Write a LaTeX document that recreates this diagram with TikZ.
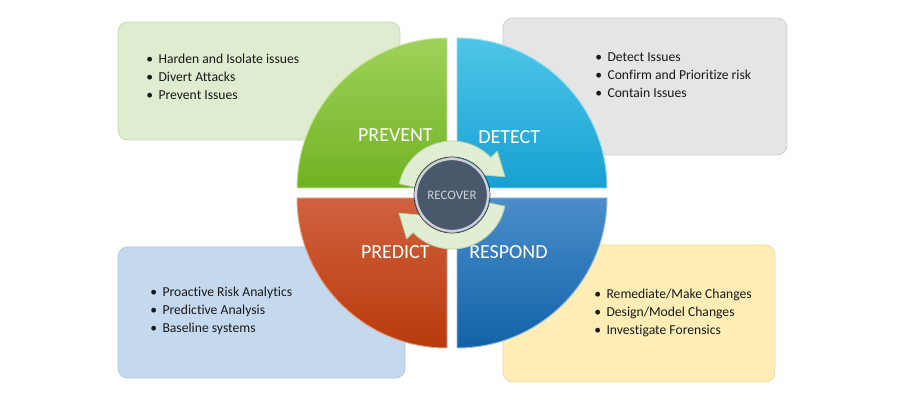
\documentclass[tikz,border=0pt]{standalone}
\usepackage{fontspec}
\setmainfont{Carlito}[Ligatures=NoCommon]
\usepackage{xcolor}
\usetikzlibrary{calc}
\definecolor{txt}{RGB}{25,25,25}
\definecolor{grnbox}{RGB}{223,236,208}
\definecolor{grnln}{RGB}{198,219,175}
\definecolor{gryBox}{RGB}{229,229,229}
\definecolor{gryLn}{RGB}{208,208,208}
\definecolor{bluBox}{RGB}{197,217,238}
\definecolor{bluLn}{RGB}{176,199,226}
\definecolor{ylwBox}{RGB}{254,238,182}
\definecolor{ylwLn}{RGB}{236,218,160}
\definecolor{prvTop}{RGB}{160,210,90}
\definecolor{prvBot}{RGB}{112,178,34}
\definecolor{detTop}{RGB}{78,198,232}
\definecolor{detBot}{RGB}{22,160,210}
\definecolor{preTop}{RGB}{208,98,62}
\definecolor{preBot}{RGB}{184,58,12}
\definecolor{resTop}{RGB}{74,142,202}
\definecolor{resBot}{RGB}{18,98,168}
\definecolor{rngFill}{RGB}{226,238,212}
\definecolor{rngLn}{RGB}{188,210,166}
\definecolor{recFill}{RGB}{74,88,108}
\definecolor{recRim}{RGB}{205,210,218}
\tikzstyle{bx}=[rounded corners=7pt, line width=0.6pt]
\tikzstyle{lst}=[anchor=west, align=left, inner sep=0, text=txt,
		font=\fontsize{9.7}{12.8}\selectfont]
\tikzstyle{ql}=[inner sep=0, text=white, font=\fontsize{14.2}{16}\selectfont]
\tikzstyle{qd}=[line width=0.7pt]
\tikzstyle{rng}=[fill=rngFill, draw=rngLn, line width=0.6pt, line join=round]
\newcommand{\bl}{\textbullet\hspace{0.4em}}

\begin{document}
\begin{tikzpicture}[x=0.025cm, y=0.025cm]
	\useasboundingbox (0,0) rectangle (900,400);
	% text boxes
	\draw[bx, fill=grnbox, draw=grnln] (118,378) rectangle (400,260);
	\draw[bx, fill=gryBox, draw=gryLn] (503,382) rectangle (787,245);
	\draw[bx, fill=bluBox, draw=bluLn] (118,153) rectangle (405,22);
	\draw[bx, fill=ylwBox, draw=ylwLn] (503,155) rectangle (775,18);
	\node[lst] (prevlist) at (146,323.5) {\bl Harden and Isolate issues\\\bl Divert Attacks\\\bl Prevent Issues};
	\node[lst] (detlist) at (595,324.5) {\bl Detect Issues\\\bl Confirm and Prioritize risk\\\bl Contain Issues};
	\node[lst] (predlist) at (150,89) {\bl Proactive Risk Analytics\\\bl Predictive Analysis\\\bl Baseline systems};
	\node[lst] (reslist) at (594,87) {\bl Remediate/Make Changes\\\bl Design/Model Changes\\\bl Investigate Forensics};
	% quadrants
	\draw[qd, top color=prvTop, bottom color=prvBot, draw=prvTop!60!white]
		(447,212) -- (297,212) arc[start angle=180, end angle=90, radius=150] -- cycle;
	\draw[qd, top color=detTop, bottom color=detBot, draw=detTop!60!white]
		(457,212) -- (457,362) arc[start angle=90, end angle=0, radius=150] -- cycle;
	\draw[qd, top color=preTop, bottom color=preBot, draw=preTop!60!white]
		(447,202) -- (447,52) arc[start angle=270, end angle=180, radius=150] -- cycle;
	\draw[qd, top color=resTop, bottom color=resBot, draw=resTop!60!white]
		(457,202) -- (607,202) arc[start angle=0, end angle=-90, radius=150] -- cycle;
	\node[ql, anchor=east] (prev) at (433,265) {PREVENT};
	\node[ql, anchor=west] (det) at (478,263) {DETECT};
	\node[ql, anchor=east] (pred) at (430,148) {PREDICT};
	\node[ql, anchor=west] (res) at (469,148) {RESPOND};
	% recover cycle
	\begin{scope}[shift={(452,205)}]
		\draw[rng] (168:54) arc[start angle=168, end angle=44, radius=54]
			-- (44:63) -- (19:56) -- (44:30) -- (44:38)
			arc[start angle=44, end angle=168, radius=38] -- cycle;
		\draw[rng] (348:54) arc[start angle=348, end angle=224, radius=54]
			-- (224:63) -- (199:56) -- (224:30) -- (224:38)
			arc[start angle=224, end angle=348, radius=38] -- cycle;
		\draw[fill=recFill, draw=recRim, line width=1.6pt] (0,0) circle (36);
		\draw[draw=recFill!70!black, line width=0.5pt] (0,0) circle (38);
	\end{scope}
	\node[inner sep=0, text=recRim, font=\fontsize{9.2}{11}\selectfont] (rec) at (452,205) {RECOVER};
\end{tikzpicture}
\end{document}
